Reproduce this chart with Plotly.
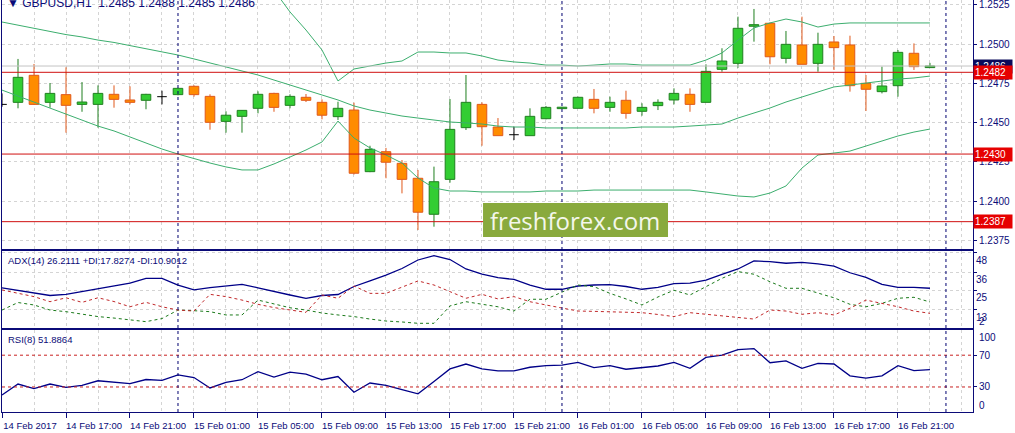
import plotly.graph_objects as go

# GBPUSD H1 bars, bar 0 = 14 Feb 2017 13:00
opens = [1.24616, 1.24629, 1.24801, 1.24629, 1.24678, 1.24616, 1.24616, 1.24680, 1.24644, 1.24642,
         1.24665, 1.24678, 1.24731, 1.24667, 1.24508, 1.24540, 1.24591, 1.24686, 1.24610, 1.24661,
         1.24629, 1.24538, 1.24580, 1.24188, 1.24315, 1.24241, 1.24146, 1.23917, 1.24139, 1.24468,
         1.24616, 1.24472, 1.24423, 1.24417, 1.24525, 1.24589, 1.24591, 1.24648, 1.24597, 1.24642,
         1.24572, 1.24608, 1.24644, 1.24680, 1.24629, 1.24839, 1.24877, 1.25113, 1.25132, 1.24909,
         1.24994, 1.24877, 1.25013, 1.24994, 1.24750, 1.24697, 1.24735, 1.24941, 1.24850]
highs = [1.24686, 1.24905, 1.24873, 1.24752, 1.24852, 1.24758, 1.24737, 1.24737, 1.24731, 1.24683,
         1.24703, 1.24722, 1.24737, 1.24680, 1.24572, 1.24580, 1.24699, 1.24690, 1.24680, 1.24682,
         1.24648, 1.24633, 1.24627, 1.24353, 1.24339, 1.24262, 1.24199, 1.24220, 1.24650, 1.24803,
         1.24629, 1.24529, 1.24474, 1.24591, 1.24606, 1.24600, 1.24665, 1.24714, 1.24665, 1.24703,
         1.24623, 1.24648, 1.24718, 1.24718, 1.24871, 1.24973, 1.25174, 1.25223, 1.25135, 1.25083,
         1.25174, 1.25072, 1.25051, 1.25053, 1.24803, 1.24856, 1.24962, 1.25004, 1.24880]
lows = [1.24601, 1.24591, 1.24612, 1.24595, 1.24436, 1.24569, 1.24468, 1.24595, 1.24616, 1.24585,
        1.24616, 1.24674, 1.24665, 1.24455, 1.24436, 1.24436, 1.24559, 1.24569, 1.24591, 1.24631,
        1.24521, 1.24517, 1.24170, 1.24185, 1.24146, 1.24050, 1.23817, 1.23838, 1.24118, 1.24453,
        1.24353, 1.24417, 1.24389, 1.24417, 1.24521, 1.24587, 1.24591, 1.24559, 1.24569, 1.24525,
        1.24544, 1.24580, 1.24616, 1.24569, 1.24629, 1.24824, 1.24849, 1.25015, 1.24871, 1.24877,
        1.24871, 1.24824, 1.24835, 1.24697, 1.24574, 1.24686, 1.24665, 1.24835, 1.24850]
closes = [1.24616, 1.24788, 1.24616, 1.24686, 1.24610, 1.24631, 1.24686, 1.24648, 1.24629, 1.24680,
          1.24665, 1.24718, 1.24678, 1.24502, 1.24547, 1.24578, 1.24680, 1.24597, 1.24667, 1.24642,
          1.24547, 1.24591, 1.24178, 1.24330, 1.24248, 1.24139, 1.23930, 1.24124, 1.24457, 1.24629,
          1.24474, 1.24417, 1.24423, 1.24540, 1.24597, 1.24598, 1.24661, 1.24591, 1.24629, 1.24559,
          1.24597, 1.24629, 1.24686, 1.24616, 1.24826, 1.24892, 1.25100, 1.25123, 1.24919, 1.24998,
          1.24871, 1.24998, 1.24977, 1.24735, 1.24712, 1.24733, 1.24947, 1.24856, 1.24860]

# Bollinger bands (upper is above the visible range for the first bars)
bb_upper = [None] * 16 + [
    1.25471, 1.25343, 1.25204, 1.25089, 1.24962, 1.24765, 1.24841, 1.24860, 1.24879, 1.24892,
    1.24949, 1.24949, 1.24943, 1.24943, 1.24924, 1.24898, 1.24886, 1.24879, 1.24866, 1.24866,
    1.24860, 1.24866, 1.24873, 1.24873, 1.24866, 1.24866, 1.24866, 1.24866, 1.24898, 1.24943,
    1.25025, 1.25102, 1.25134, 1.25159, 1.25140, 1.25108, 1.25127, 1.25134, 1.25134, 1.25134,
    1.25134, 1.25134, 1.25134]
bb_mid = [1.25140, 1.25120, 1.25100, 1.25080, 1.25060, 1.25045, 1.25025, 1.25010, 1.24990, 1.24970,
          1.24950, 1.24930, 1.24905, 1.24880, 1.24854, 1.24828, 1.24803, 1.24771, 1.24739, 1.24707,
          1.24676, 1.24644, 1.24606, 1.24580, 1.24561, 1.24542, 1.24529, 1.24517, 1.24504, 1.24498,
          1.24491, 1.24478, 1.24472, 1.24472, 1.24466, 1.24466, 1.24466, 1.24466, 1.24466, 1.24466,
          1.24472, 1.24472, 1.24472, 1.24478, 1.24485, 1.24491, 1.24529, 1.24561, 1.24593, 1.24631,
          1.24663, 1.24695, 1.24727, 1.24739, 1.24752, 1.24765, 1.24777, 1.24784, 1.24796]
bb_lower = [1.24707, 1.24669, 1.24631, 1.24593, 1.24555, 1.24517, 1.24478, 1.24447, 1.24409, 1.24370,
            1.24332, 1.24300, 1.24269, 1.24243, 1.24218, 1.24199, 1.24199, 1.24237, 1.24281, 1.24326,
            1.24377, 1.24510, 1.24402, 1.24339, 1.24294, 1.24243, 1.24148, 1.24084, 1.24065, 1.24065,
            1.24059, 1.24059, 1.24059, 1.24059, 1.24065, 1.24065, 1.24065, 1.24071, 1.24071, 1.24071,
            1.24071, 1.24071, 1.24071, 1.24071, 1.24059, 1.24046, 1.24033, 1.24027, 1.24052, 1.24097,
            1.24211, 1.24294, 1.24307, 1.24319, 1.24351, 1.24383, 1.24415, 1.24440, 1.24459]

adx = [26.5, 24.9, 23.2, 21.8, 22.5, 24.2, 26.1, 27.6, 29.3, 32.2,
       32.3, 28.2, 25.2, 26.6, 27.6, 28.6, 26.5, 24.2, 22.1, 20.1,
       21.8, 22.4, 27.3, 30.7, 34.2, 38.3, 43.5, 46.2, 43.8, 38.0,
       34.8, 32.7, 31.6, 28.2, 25.6, 25.6, 27.6, 28.2, 28.5, 27.3,
       25.6, 26.7, 29.1, 29.3, 31.2, 34.7, 38.0, 42.9, 42.5, 41.5,
       42.1, 41.1, 39.8, 35.7, 32.9, 28.6, 26.8, 26.8, 26.2111]
plus_di = [12.9, 17.5, 16.0, 12.9, 11.9, 10.5, 8.9, 8.0, 6.8, 5.8,
           7.7, 12.9, 12.5, 11.9, 9.9, 9.9, 19.0, 16.6, 14.3, 12.9,
           11.1, 9.9, 8.9, 7.4, 6.2, 5.6, 4.8, 4.8, 15.4, 18.0,
           16.4, 14.9, 12.3, 19.5, 19.5, 23.9, 28.2, 27.2, 23.1, 19.7,
           16.0, 20.9, 25.0, 22.1, 27.0, 32.3, 36.4, 34.8, 30.2, 26.2,
           26.2, 23.3, 20.4, 16.4, 14.9, 17.0, 20.1, 20.7, 17.8274]
minus_di = [25.2, 23.1, 21.1, 18.0, 20.4, 17.6, 20.4, 18.1, 14.9, 17.6,
            14.9, 12.9, 12.3, 22.5, 21.1, 19.0, 16.4, 14.4, 12.9, 11.5,
            22.1, 20.1, 27.6, 23.1, 23.1, 27.0, 30.7, 28.2, 24.2, 20.1,
            22.5, 19.7, 21.1, 18.0, 16.0, 14.0, 12.3, 12.1, 11.9, 11.6,
            11.3, 10.2, 8.9, 11.3, 10.3, 9.2, 8.2, 7.4, 12.9, 12.3,
            10.3, 11.3, 9.9, 14.0, 19.0, 17.0, 14.9, 12.3, 10.9012]
rsi = [20.0, 33.7, 27.9, 33.7, 29.5, 32.0, 37.8, 36.0, 34.1, 39.4,
       38.2, 45.2, 41.9, 28.8, 35.7, 39.1, 49.3, 42.4, 48.6, 46.1,
       39.1, 43.1, 23.3, 35.0, 32.0, 26.7, 21.4, 37.0, 52.7, 58.9,
       52.7, 50.2, 50.2, 54.8, 56.8, 57.6, 61.0, 54.3, 56.8, 52.3,
       54.3, 56.4, 61.0, 53.5, 67.2, 70.0, 77.1, 78.3, 60.5, 62.9,
       53.5, 59.7, 58.9, 44.0, 41.2, 44.0, 56.8, 50.6, 51.8864]

levels = [1.2482, 1.2430, 1.2387]
bid = 1.2486
rsi_levels = [70, 30]
price_ticks = [1.2375, 1.2400, 1.2425, 1.2450, 1.2475, 1.2500, 1.2525]
adx_ticks = [48, 36, 25, 13]
day_breaks = [11, 35, 59]
time_idx = [0, 4, 8, 12, 16, 20, 24, 28, 32, 36, 40, 44, 48, 52, 56]
time_labels = ["14 Feb 2017", "14 Feb 17:00", "14 Feb 21:00", "15 Feb 01:00", "15 Feb 05:00",
               "15 Feb 09:00", "15 Feb 13:00", "15 Feb 17:00", "15 Feb 21:00", "16 Feb 01:00",
               "16 Feb 05:00", "16 Feb 09:00", "16 Feb 13:00", "16 Feb 17:00", "16 Feb 21:00"]

NAVY = "#0b0b78"
GRID = "#d4d4d4"
BULL, BULL_LINE = "#32cd32", "#1f7f1f"
BEAR, BEAR_LINE = "#ff8c00", "#e0581a"
BAND = "#3cae6e"
FONT = "Liberation Sans, Arial, sans-serif"

bars = list(range(len(opens)))
up = [i for i in bars if closes[i] > opens[i]]
dn = [i for i in bars if closes[i] < opens[i]]
flat = [i for i in bars if closes[i] == opens[i]]


def wicks(idx):
    xs, ys = [], []
    for i in idx:
        top, bot = max(opens[i], closes[i]), min(opens[i], closes[i])
        xs += [i, i, None, i, i, None]
        ys += [highs[i], top, None, bot, lows[i], None]
    return xs, ys


fig = go.Figure()

# candle bodies
for idx, fill, edge in [(up, BULL, BULL_LINE), (dn, BEAR, BEAR_LINE)]:
    fig.add_trace(go.Bar(
        x=idx,
        y=[abs(closes[i] - opens[i]) for i in idx],
        base=[min(opens[i], closes[i]) for i in idx],
        width=0.6,
        marker=dict(color=fill, line=dict(color=edge, width=1)),
        xaxis="x", yaxis="y"))
    wx, wy = wicks(idx)
    fig.add_trace(go.Scatter(x=wx, y=wy, mode="lines", line=dict(color=edge, width=1),
                             xaxis="x", yaxis="y"))

# dojis drawn as black crosses
dx, dy = [], []
for i in flat:
    dx += [i, i, None, i - 0.3, i + 0.3, None]
    dy += [highs[i], lows[i], None, opens[i], opens[i], None]
fig.add_trace(go.Scatter(x=dx, y=dy, mode="lines", line=dict(color="black", width=1),
                         xaxis="x", yaxis="y"))

# bollinger bands
for band in (bb_upper, bb_mid, bb_lower):
    fig.add_trace(go.Scatter(x=bars, y=band, mode="lines", line=dict(color=BAND, width=1),
                             xaxis="x", yaxis="y"))

# ADX panel
fig.add_trace(go.Scatter(x=bars, y=adx, mode="lines", line=dict(color="#000088", width=1.3),
                         xaxis="x2", yaxis="y2"))
fig.add_trace(go.Scatter(x=bars, y=plus_di, mode="lines",
                         line=dict(color="#1b7a1b", width=1, dash="3px,3px"),
                         xaxis="x2", yaxis="y2"))
fig.add_trace(go.Scatter(x=bars, y=minus_di, mode="lines",
                         line=dict(color="#c0282a", width=1, dash="3px,3px"),
                         xaxis="x2", yaxis="y2"))

# RSI panel
fig.add_trace(go.Scatter(x=bars, y=rsi, mode="lines", line=dict(color="#000088", width=1.3),
                         xaxis="x3", yaxis="y3"))

shapes = []
shapes.append(dict(type="line", xref="x domain", yref="y", x0=0, x1=1, y0=bid, y1=bid,
                   line=dict(color="#c4c4c4", width=1)))
for lv in levels:
    shapes.append(dict(type="line", xref="x domain", yref="y", x0=0, x1=1, y0=lv, y1=lv,
                       line=dict(color="#d01010", width=1)))
for lv in rsi_levels:
    shapes.append(dict(type="line", xref="x3 domain", yref="y3", x0=0, x1=1, y0=lv, y1=lv,
                       line=dict(color="#c82020", width=1, dash="3px,3px")))
for d in day_breaks:
    shapes.append(dict(type="line", xref="x", yref="paper", x0=d, x1=d, y0=0, y1=1,
                       line=dict(color="#000070", width=1, dash="3px,3px")))
# watermark box
shapes.append(dict(type="rect", xref="paper", yref="paper", x0=0.4954, x1=0.6859,
                   y0=0.4248, y1=0.5073, fillcolor="#89aa3d", line=dict(width=0)))

annotations = [
    dict(text="\u25bc GBPUSD,H1\u00a0\u00a01.2485 1.2488 1.2485 1.2486", xref="paper", yref="paper",
         x=0, y=1, xanchor="left", yanchor="middle", xshift=3, yshift=-3, showarrow=False,
         font=dict(size=12, color=NAVY)),
    dict(text="ADX(14) 26.2111 +DI:17.8274 -DI:10.9012", xref="paper", yref="y2 domain",
         x=0, y=1, xanchor="left", yanchor="middle", xshift=4, yshift=-10, showarrow=False,
         font=dict(size=9.5, color=NAVY)),
    dict(text="RSI(8) 51.8864", xref="paper", yref="y3 domain",
         x=0, y=1, xanchor="left", yanchor="middle", xshift=4, yshift=-10, showarrow=False,
         font=dict(size=9.5, color=NAVY)),
    dict(text="freshforex.com", xref="paper", yref="paper", x=0.5906, y=0.466,
         xanchor="center", yanchor="middle", showarrow=False,
         font=dict(family="Open Sans", size=24, color="#f4f7ec")),
    dict(text="2", xref="paper", yref="y2", x=1, y=2, xanchor="left", yanchor="middle",
         xshift=4, yshift=6, showarrow=False, font=dict(size=10, color=NAVY)),
    dict(text="100", xref="paper", yref="y3", x=1, y=100, xanchor="left", yanchor="middle",
         xshift=4, yshift=-6, showarrow=False, font=dict(size=10, color=NAVY)),
    dict(text="0", xref="paper", yref="y3", x=1, y=0, xanchor="left", yanchor="middle",
         xshift=4, yshift=5, showarrow=False, font=dict(size=10, color=NAVY)),
    # current bid label, then the level labels on top of it
    dict(text=f"{bid:.4f}", xref="paper", yref="y", x=1, y=bid, xanchor="left", yanchor="middle",
         showarrow=False, bgcolor="#0a0a5a", width=36, align="left", borderpad=1,
         font=dict(size=10, color="white")),
]
for lv in levels:
    annotations.append(dict(text=f"{lv:.4f}", xref="paper", yref="y", x=1, y=lv,
                            xanchor="left", yanchor="middle", showarrow=False,
                            bgcolor="#e60000", width=36, align="left", borderpad=1,
                            font=dict(size=10, color="white")))

xgrid = dict(showgrid=True, gridcolor=GRID, griddash="3px,3px", gridwidth=1,
             zeroline=False, range=[0, 60.69], showline=True, linecolor=NAVY, linewidth=1)
ybase = dict(side="right", showline=True, mirror=True, linecolor=NAVY, linewidth=1,
             ticks="outside", ticklen=3, tickcolor=NAVY, zeroline=False,
             ticklabeloverflow="allow", tickfont=dict(size=10, color=NAVY))

fig.update_layout(
    width=1015, height=433,
    margin=dict(l=2, r=42, t=0, b=21),
    paper_bgcolor="white", plot_bgcolor="white",
    font=dict(family=FONT, size=10, color=NAVY),
    showlegend=False,
    barmode="overlay",
    hovermode=False,
    xaxis=dict(xgrid, anchor="y", dtick=2, tick0=0, showticklabels=False, mirror=False),
    xaxis2=dict(xgrid, anchor="y2", matches="x", dtick=2, tick0=0, showticklabels=False,
                mirror=True),
    xaxis3=dict(xgrid, anchor="y3", matches="x", mirror=True,
                tickmode="array", tickvals=time_idx, ticktext=time_labels,
                ticks="outside", ticklen=5, tickcolor=NAVY, tickangle=0,
                ticklabelshift=28, tickfont=dict(size=9.5, color=NAVY),
                minor=dict(tickmode="linear", tick0=0, dtick=2, showgrid=True,
                           gridcolor=GRID, griddash="3px,3px", ticks="")),
    yaxis=dict(ybase, domain=[0.3956, 1], range=[1.23696, 1.25280],
               tickvals=price_ticks, tickformat=".4f",
               showgrid=True, gridcolor=GRID, griddash="3px,3px"),
    yaxis2=dict(ybase, domain=[0.2031, 0.3908], range=[1.73, 49.0],
                tickvals=adx_ticks, ticklabelposition="outside bottom",
                showgrid=True, gridcolor=GRID, griddash="3px,3px"),
    yaxis3=dict(ybase, domain=[0, 0.2], range=[-1.5, 102.2],
                tickvals=rsi_levels, showgrid=False),
    shapes=shapes,
    annotations=annotations,
)

# the page's default body margin would push the chart off the window
fig.write_html("out.html", config={"displayModeBar": False},
               post_script="document.body.style.margin='0';")
